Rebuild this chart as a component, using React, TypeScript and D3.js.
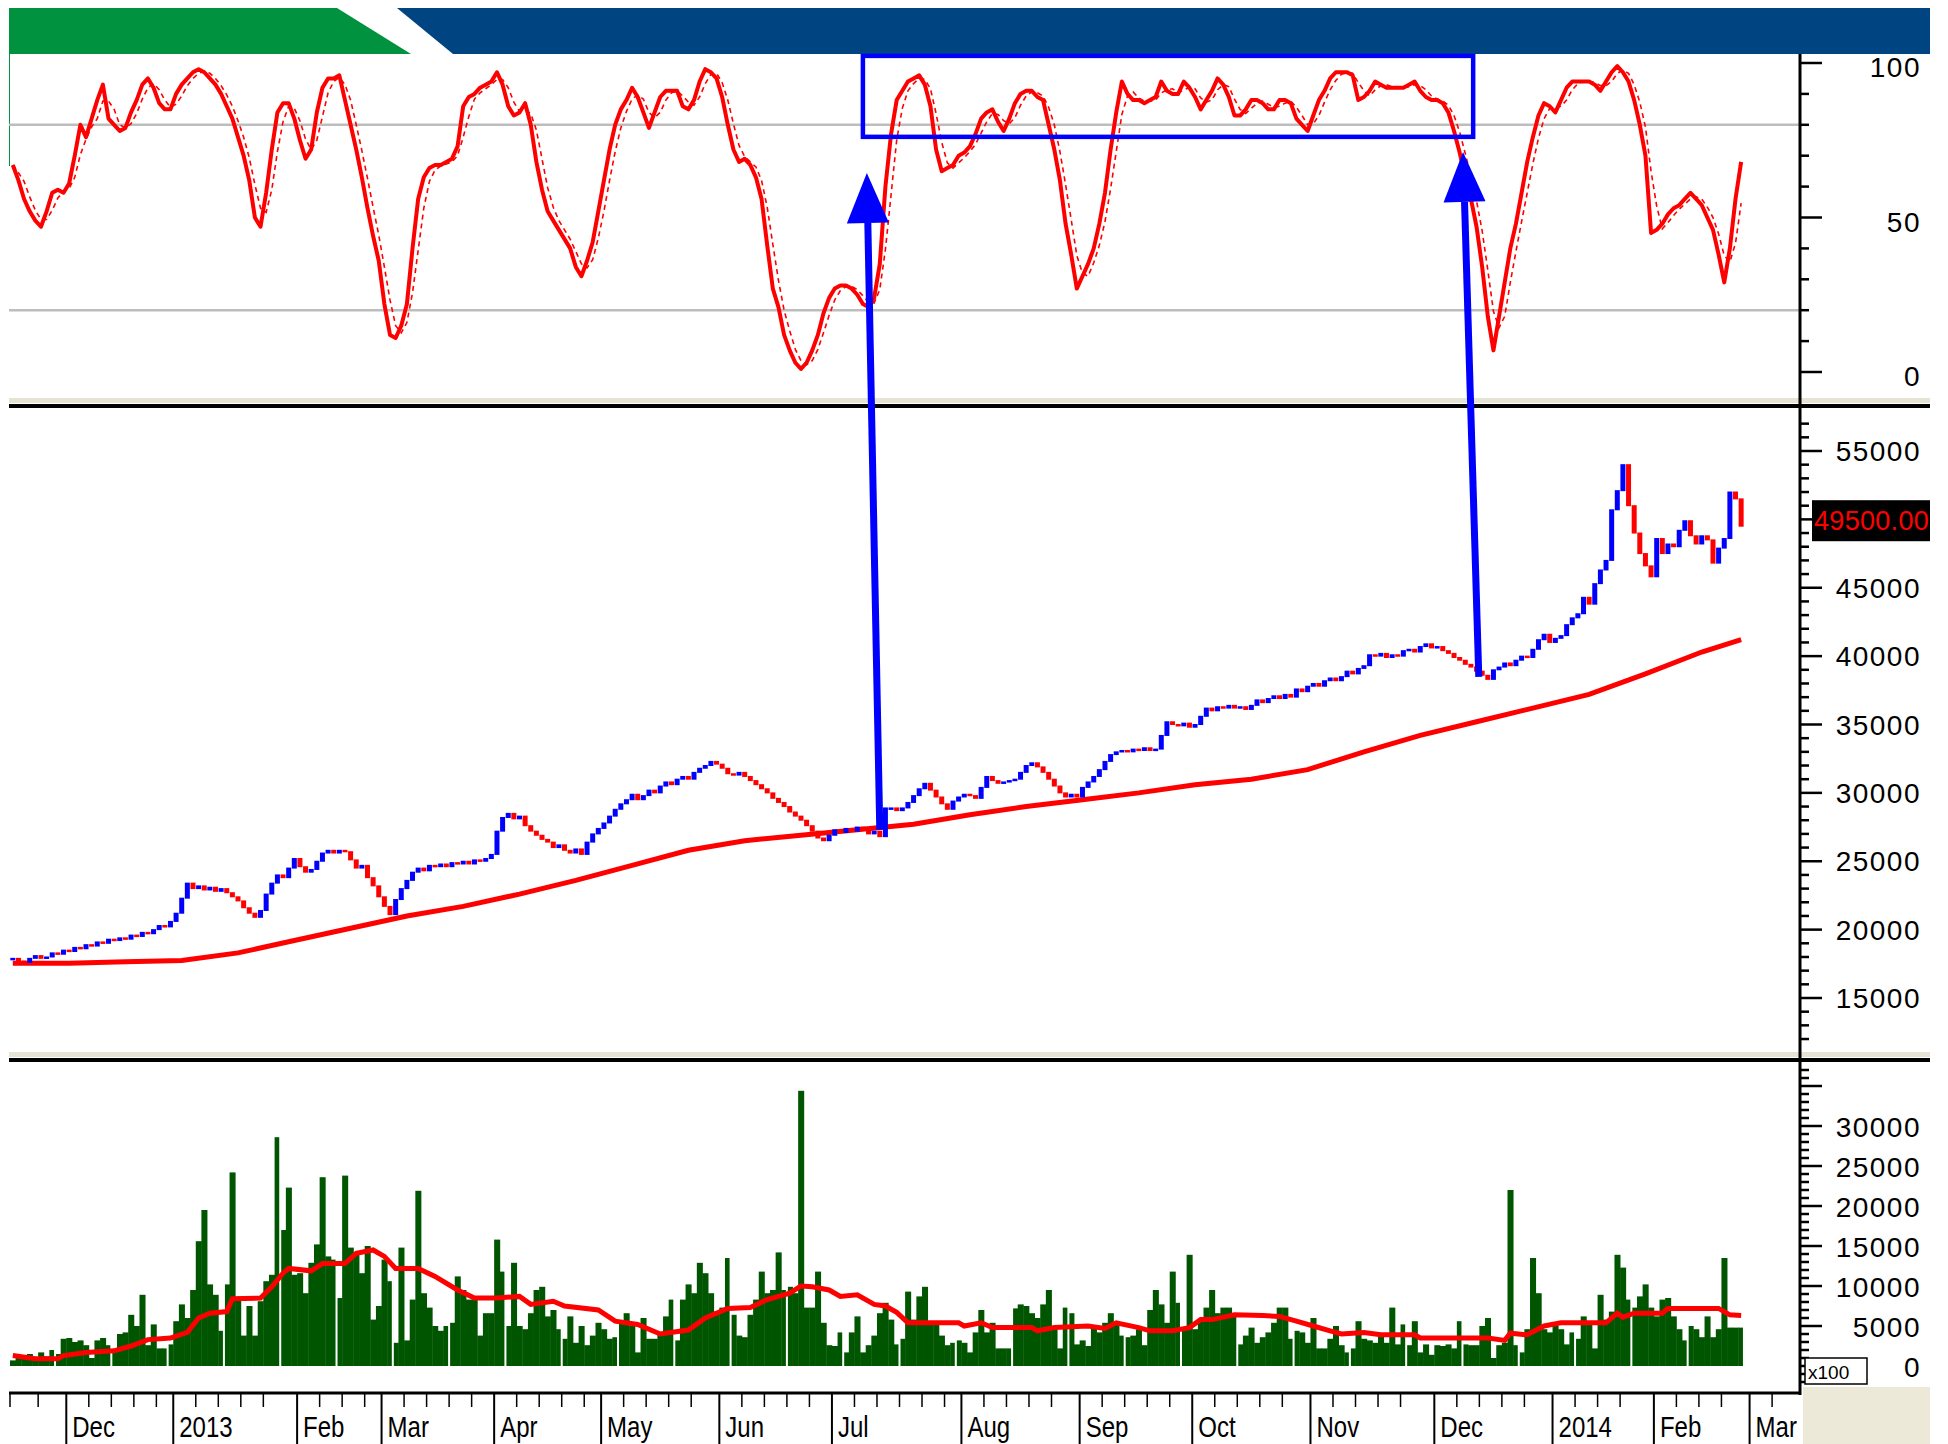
import React, { useEffect, useRef } from 'react';
import * as d3 from 'd3';

// daily closes, one per trading day (mid Nov 2012 .. end Feb 2014)
const closes: number[] = [
  17900, 17700, 17600, 17900, 18100, 17900, 18000, 18300, 18200, 18500,
  18400, 18700, 18600, 18900, 18800, 19100, 19000, 19300, 19200, 19400,
  19300, 19600, 19500, 19800, 19700, 20000, 20300, 20200, 20600, 21200,
  22300, 23400, 23000, 23200, 22900, 23100, 22800, 23000, 22700, 22400,
  22100, 21600, 21200, 20900, 21400, 22600, 23400, 24000, 23800, 24500,
  25200, 24600, 24200, 24400, 25000, 25600, 25800, 25600, 25800, 25700,
  25100, 24500, 24700, 23800, 23200, 22400, 21700, 21100, 22200, 23000,
  23600, 24200, 24500, 24300, 24700, 24600, 24800, 24600, 24900, 24800,
  25000, 24800, 25100, 25000, 25200, 25500, 27200, 28200, 28500, 28100,
  28300, 27600, 27200, 26900, 26600, 26400, 26000, 26200, 25800, 25600,
  25900, 25500, 26400, 27000, 27400, 27800, 28300, 28800, 29200, 29500,
  29900, 29500, 29800, 30200, 30000, 30500, 30800, 30600, 31000, 31200,
  31000, 31500, 31800, 32000, 32300, 32100, 31800, 31400, 31300, 31500,
  31200, 30900, 30600, 30300, 30000, 29600, 29300, 29000, 28600, 28300,
  28000, 27600, 27200, 26700, 26500, 26900, 27300, 27100, 27400, 27200,
  27500, 27300, 27000, 27200, 26800, 28900, 28900, 28700, 28900, 29300,
  29800, 30300, 30700, 30200, 29700, 29200, 28800, 29400, 29700, 29900,
  29800, 29600, 30400, 31200, 30900, 30700, 30800, 30900, 31000, 31500,
  32000, 32200, 31900, 31500, 31000, 30500, 30000, 29700, 29900, 29700,
  30400, 30800, 31200, 31700, 32300, 32800, 33000, 33100, 33000, 33200,
  33100, 33300, 33100, 33200, 34200, 35200, 35000, 34900, 35100, 34800,
  35000, 35600, 36200, 36000, 36300, 36200, 36400, 36200, 36300, 36100,
  36400, 36800, 36600, 36900, 37100, 36900, 37200, 37000, 37600, 37400,
  37800, 38000, 37800, 38200, 38400, 38200, 38500, 38900, 38700, 39100,
  39300, 40100, 40000, 40200, 39900, 40100, 40000, 40400, 40500, 40300,
  40700, 40900, 40600, 40700, 40400, 40200, 39900, 39700, 39400, 39200,
  38900, 38600, 38300, 39000, 39200, 39500, 39300, 39700, 40000, 39900,
  40500, 41200, 41600, 41000, 41300, 41500, 42300, 42800, 43100, 44300,
  43800, 45300, 46300, 47000, 50700, 52100, 54000, 51000, 49000, 47500,
  46600, 45800, 48600, 47500, 48200, 48000, 49200, 49900, 48800, 48200,
  48800, 48500, 46800, 47900, 48600, 52000, 51500, 49500
];

// stochastic %K
const stochK: number[] = [
  67, 62, 56, 52, 49, 47, 52, 58, 59, 58,
  61, 70, 80, 76, 82, 88, 93, 82, 80, 78,
  79, 84, 88, 93, 95, 92, 87, 85, 85, 90,
  93, 95, 97, 98, 97, 95, 93, 90, 86, 82,
  76, 70, 62, 50, 47, 58, 72, 84, 87, 87,
  82, 75, 69, 72, 84, 92, 95, 95, 96, 88,
  80, 72, 63, 53, 44, 36, 22, 12, 11, 15,
  22, 40, 56, 63, 66, 67, 67, 68, 69, 73,
  86, 89, 90, 92, 93, 94, 97, 93, 86, 83,
  84, 87, 80, 68, 59, 52, 49, 46, 43, 40,
  34, 31, 36, 42, 52, 62, 72, 80, 85, 88,
  92, 89, 84, 79, 84, 89, 91, 91, 91, 86,
  85, 88, 94, 98, 97, 95, 89, 80, 72, 68,
  69, 67, 63, 56, 41, 27, 21, 12, 7, 3,
  1, 3, 7, 12, 19, 24, 27, 28, 28, 27,
  25, 22, 21, 24, 35, 60, 77, 88, 91, 94,
  95, 96, 93, 86, 72, 65, 66, 67, 70, 71,
  73, 77, 82, 84, 85, 81, 78, 82, 87, 90,
  91, 91, 89, 88, 80, 72, 62, 48, 38, 27,
  31, 35, 40, 48, 58, 72, 84, 94, 90, 88,
  88, 87, 88, 89, 94, 91, 90, 90, 94, 92,
  89, 85, 88, 91, 95, 93, 89, 83, 83, 85,
  88, 88, 87, 85, 85, 88, 88, 87, 82, 80,
  78, 83, 88, 91, 95, 97, 97, 97, 96, 88,
  89, 91, 94, 93, 92, 92, 92, 92, 93, 94,
  91, 89, 88, 88, 87, 84, 78, 71, 63, 56,
  47, 34, 18, 7, 18, 29, 40, 48, 58, 68,
  76, 83, 87, 86, 84, 88, 92, 94, 94, 94,
  94, 93, 91, 94, 97, 99, 97, 94, 88, 80,
  70, 45, 46, 48, 51, 53, 54, 56, 58, 56,
  54, 50, 46, 38, 29, 40, 56, 68
];

// volume (x100)
const volumes: number[] = [
  700, 1300, 900, 1500, 1000, 1700, 1200, 2000, 1500, 3400,
  3500, 3000, 3200, 2600, 1000, 3200, 3500, 2600, 2000, 4000,
  4200, 6400, 5000, 8900, 2600, 5200, 2200, 2200, 2700, 5600,
  7700, 6000, 9500, 15600, 19500, 10200, 8900, 4400, 10200, 24200,
  8500, 3800, 7500, 3800, 8100, 10600, 11400, 28600, 17000, 22300,
  11400, 11600, 9100, 12900, 15200, 23600, 13700, 13300, 8500, 23800,
  14800, 14200, 11600, 15000, 5800, 7500, 13300, 10600, 2900, 14800,
  3200, 8300, 21900, 9100, 7300, 5000, 4400, 5000, 5400, 11200,
  9500, 8300, 8300, 3800, 6600, 6600, 15800, 11800, 5000, 12900,
  5000, 4600, 6600, 9500, 9900, 6200, 7000, 4600, 3400, 6200,
  2900, 5000, 2600, 3800, 5400, 4600, 3400, 3600, 5600, 6600,
  5000, 1700, 6000, 3400, 3400, 4200, 6200, 8300, 3200, 8300,
  10200, 9100, 12900, 11600, 9100, 6800, 7300, 13500, 6400, 3800,
  3600, 6400, 8300, 11800, 9100, 9500, 14200, 9500, 9900, 9100,
  34400, 7300, 7300, 11800, 5400, 2600, 2500, 4200, 1700, 4200,
  6200, 1700, 2600, 3800, 6600, 7900, 5800, 2700, 3400, 9300,
  5800, 8700, 9900, 5600, 5400, 3800, 2600, 2900, 3200, 2900,
  1700, 4200, 7000, 4200, 5400, 2200, 2200, 2200, 7200, 7700,
  7500, 6600, 6000, 7700, 9500, 5000, 2200, 7300, 6600, 2700,
  3200, 2500, 5000, 4200, 5400, 6600, 5400, 3800, 3600, 3800,
  4600, 2600, 7000, 9500, 7700, 5400, 11800, 7900, 4600, 13900,
  4600, 5800, 7300, 9500, 6600, 7300, 7300, 6600, 2700, 3800,
  4800, 2900, 3600, 4200, 5400, 7300, 7300, 3400, 4400, 4200,
  2900, 6000, 2200, 2200, 3400, 5000, 2600, 1700, 2200, 5600,
  3400, 3200, 2900, 3800, 2900, 7300, 2700, 5200, 2600, 5600,
  1700, 2700, 1400, 2600, 2500, 2700, 2200, 5600, 2700, 2600,
  2600, 5000, 6000, 1000, 2600, 2900, 22000, 2600, 1700, 4600,
  13500, 9100, 4600, 4200, 5000, 4600, 2700, 4200, 3400, 6200,
  5600, 2200, 8900, 5800, 6800, 13900, 12300, 8300, 7300, 8700,
  10200, 7300, 6200, 8300, 8500, 6200, 4600, 3200, 5000, 4600,
  3600, 6200, 3600, 4600, 13500, 4800, 4800, 4800
];

// long moving average of price, [day index, value]
const priceMa: [number, number][] = [
  [0, 17550], [10, 17550], [20, 17650], [30, 17750], [40, 18300], [50, 19200],
  [60, 20100], [70, 21000], [80, 21700], [90, 22600], [100, 23600], [110, 24700],
  [120, 25800], [130, 26500], [140, 26900], [150, 27300], [160, 27700], [170, 28400],
  [180, 29000], [190, 29500], [200, 30000], [210, 30600], [220, 31000], [230, 31700],
  [240, 33000], [250, 34200], [260, 35200], [270, 36200], [280, 37200], [290, 38700],
  [300, 40300], [307, 41200]
];

// moving average of volume, [day index, value]
const volumeMa: [number, number][] = [
  [0, 1300], [4, 900], [8, 900], [9, 1300], [13, 1700], [18, 1900], [21, 2500],
  [24, 3300], [28, 3500], [31, 4200], [33, 6000], [35, 6600], [38, 6800], [39, 8400],
  [44, 8500], [46, 9900], [48, 11600], [49, 12200], [53, 11900], [55, 12800],
  [59, 12800], [61, 14100], [64, 14500], [66, 13700], [68, 12200], [72, 12200],
  [75, 11200], [79, 9500], [82, 8500], [86, 8500], [90, 8700], [92, 7700], [96, 8100],
  [98, 7500], [104, 7000], [107, 5600], [111, 5200], [115, 4000], [120, 4500],
  [123, 6000], [127, 7200], [131, 7300], [134, 8300], [138, 9100], [140, 10000],
  [142, 9900], [145, 9500], [147, 8700], [150, 8900], [153, 7700], [155, 7500],
  [157, 6700], [159, 5400], [168, 5400], [169, 5000], [172, 5400], [174, 4800],
  [181, 4800], [182, 4400], [185, 4800], [191, 5000], [194, 4700], [196, 5400],
  [200, 4800], [202, 4400], [206, 4400], [209, 4800], [211, 5800], [213, 5800],
  [217, 6400], [222, 6300], [225, 6200], [228, 5600], [231, 5000], [234, 4400],
  [236, 4000], [240, 4200], [243, 3900], [249, 3900], [250, 3500], [262, 3500],
  [265, 3200], [266, 4100], [269, 3900], [272, 5000], [275, 5400], [283, 5400],
  [285, 6600], [286, 6100], [288, 6600], [293, 6600], [294, 7200], [303, 7200],
  [305, 6400], [307, 6300]
];

const monthLabels = ['Dec', '2013', 'Feb', 'Mar', 'Apr', 'May', 'Jun', 'Jul', 'Aug', 'Sep', 'Oct', 'Nov', 'Dec', '2014', 'Feb', 'Mar'];
const monthStart = [10, 29, 51, 66, 86, 105, 126, 146, 169, 190, 210, 231, 253, 274, 292, 309];

const oscLabels = [0, 50, 100];
const oscLevels = [20, 80];
// 50000 sits under the last-price box, so it has no label
const priceLabels = [15000, 20000, 25000, 30000, 35000, 40000, 45000, 55000];
const volumeLabels = [0, 5000, 10000, 15000, 20000, 25000, 30000];
const lastClose = 49500;

// annotation: box over the overbought zone and the two arrows
const boxSpan = { from: 151, to: 259.4, top: 102.3, bottom: 76.1 };
const arrows = [
  { fromIdx: 154, fromPrice: 27300, toIdx: 151.7, toOsc: 64.4 },
  { fromIdx: 260.4, fromPrice: 38480, toIdx: 257.6, toOsc: 71.2 }
];

const W = 1948;
const H = 1444;

const App: React.FC = () => {
  const svgRef = useRef<SVGSVGElement>(null);

  useEffect(() => {
    if (!svgRef.current) return;
    const svg = d3.select(svgRef.current);
    svg.selectAll('*').remove();

    const left = 9;
    const right = 1930;
    const axisX = 1800;
    const font = "'Liberation Sans', Arial, sans-serif";

    const x = d3.scaleLinear().domain([-0.5, 317.1]).range([10, 1798]);
    const step = x(1) - x(0);
    const yOsc = d3.scaleLinear().domain([0, 100]).range([372, 63]);
    const yPrice = d3.scaleLinear().domain([15000, 55000]).range([998, 451]);
    const yVol = d3.scaleLinear().domain([0, 30000]).range([1366, 1126]);

    svg.append('rect').attr('width', W).attr('height', H).attr('fill', '#fff');

    // 顶部色条
    svg.append('polygon')
      .attr('points', `${left},8 337,8 411,54 ${left},54`)
      .attr('fill', '#00923f');
    svg.append('polygon')
      .attr('points', `397,8 ${right},8 ${right},54 453,54`)
      .attr('fill', '#004481');
    svg.append('line')
      .attr('x1', left + 0.5).attr('x2', left + 0.5)
      .attr('y1', 54).attr('y2', 166)
      .attr('stroke', '#00923f').attr('stroke-width', 1);

    // ---- oscillator pane ----
    oscLevels.forEach(v => {
      svg.append('line')
        .attr('x1', left).attr('x2', axisX)
        .attr('y1', yOsc(v)).attr('y2', yOsc(v))
        .attr('stroke', '#bdbdbd').attr('stroke-width', 2.5);
    });

    const stochD = stochK.map((_, i) => d3.mean(stochK.slice(Math.max(0, i - 2), i + 1)) as number);
    const oscLine = d3.line<number>().x((_, i) => x(i)).y(d => yOsc(d));

    svg.append('path')
      .datum(stochD)
      .attr('d', oscLine)
      .attr('fill', 'none')
      .attr('stroke', '#ff0000')
      .attr('stroke-width', 1.6)
      .attr('stroke-dasharray', '5,4');

    svg.append('path')
      .datum(stochK)
      .attr('d', oscLine)
      .attr('fill', 'none')
      .attr('stroke', '#ff0000')
      .attr('stroke-width', 4)
      .attr('stroke-linejoin', 'round');

    // pane separators
    const separator = (y: number) => {
      svg.append('rect').attr('x', left).attr('y', y).attr('width', right - left).attr('height', 5).attr('fill', '#e6e3d4');
      svg.append('rect').attr('x', left).attr('y', y + 6).attr('width', right - left).attr('height', 4).attr('fill', '#000');
    };
    separator(398);
    separator(1052);

    // ---- price pane ----
    const maLine = d3.line<[number, number]>().x(d => x(d[0])).y(d => yPrice(d[1]));
    svg.append('path')
      .datum(priceMa)
      .attr('d', maLine)
      .attr('fill', 'none')
      .attr('stroke', '#ff0000')
      .attr('stroke-width', 5);

    const candles = closes.map((c, i) => ({ i, o: i > 0 ? closes[i - 1] : c, c }));
    const bw = 5;
    svg.append('g')
      .selectAll('rect')
      .data(candles)
      .enter()
      .append('rect')
      .attr('x', d => x(d.i) - bw / 2)
      .attr('width', bw)
      .attr('y', d => yPrice(Math.max(d.o, d.c)) - 0.5)
      .attr('height', d => Math.max(2.5, Math.abs(yPrice(d.o) - yPrice(d.c)) + 1))
      .attr('fill', d => (d.c >= d.o ? '#0000ff' : '#ff0000'));

    // ---- volume pane ----
    svg.append('g')
      .selectAll('rect')
      .data(volumes)
      .enter()
      .append('rect')
      .attr('x', (_, i) => x(i) - step / 2)
      .attr('width', step + 0.4)
      .attr('y', d => yVol(d))
      .attr('height', d => yVol(0) - yVol(d))
      .attr('fill', '#005500');

    d3.range(7.5, closes.length, 10).forEach(k => {
      svg.append('line')
        .attr('x1', x(k)).attr('x2', x(k))
        .attr('y1', 1066).attr('y2', yVol(0))
        .attr('stroke', '#fff').attr('stroke-width', 2);
    });

    const volLine = d3.line<[number, number]>().x(d => x(d[0])).y(d => yVol(d[1]));
    svg.append('path')
      .datum(volumeMa)
      .attr('d', volLine)
      .attr('fill', 'none')
      .attr('stroke', '#ff0000')
      .attr('stroke-width', 5);

    // ---- right axis ----
    const tick = (y: number, len: number) => {
      svg.append('line')
        .attr('x1', axisX).attr('x2', axisX + len)
        .attr('y1', y).attr('y2', y)
        .attr('stroke', '#000').attr('stroke-width', 2.5);
    };
    const yLabel = (y: number, text: string) => {
      svg.append('text')
        .attr('x', 1921).attr('y', y)
        .attr('text-anchor', 'end')
        .attr('font-family', font)
        .attr('font-size', 28)
        .attr('letter-spacing', 1.5)
        .attr('fill', '#000')
        .text(text);
    };

    d3.range(0, 101, 10).forEach(v => tick(yOsc(v), v % 50 === 0 ? 22 : 9));
    oscLabels.forEach(v => yLabel(yOsc(v) + 14, String(v)));

    d3.range(12000, 58000, 1000)
      .filter(v => yPrice(v) > 412 && yPrice(v) < 1050)
      .forEach(v => tick(yPrice(v), v % 5000 === 0 ? 22 : 9));
    priceLabels.forEach(v => yLabel(yPrice(v) + 10, String(v)));

    d3.range(-2000, 38000, 1000)
      .filter(v => yVol(v) > 1066 && yVol(v) < 1386)
      .forEach(v => tick(yVol(v), v % 5000 === 0 ? 22 : 9));
    volumeLabels.forEach(v => yLabel(yVol(v) + 11, String(v)));

    svg.append('line')
      .attr('x1', axisX).attr('x2', axisX)
      .attr('y1', 54).attr('y2', 1395)
      .attr('stroke', '#000').attr('stroke-width', 3);

    // last price box
    svg.append('rect')
      .attr('x', 1812).attr('y', yPrice(lastClose) - 26)
      .attr('width', 118).attr('height', 41)
      .attr('fill', '#000');
    svg.append('text')
      .attr('x', 1814).attr('y', yPrice(lastClose) + 4)
      .attr('font-family', font)
      .attr('font-size', 27)
      .attr('letter-spacing', 0.3)
      .attr('fill', '#ff0000')
      .text(lastClose.toFixed(2));

    // ---- time axis ----
    svg.append('line')
      .attr('x1', left).attr('x2', axisX)
      .attr('y1', 1393).attr('y2', 1393)
      .attr('stroke', '#000').attr('stroke-width', 3);

    const minorTicks: number[] = [0, 5];
    monthStart.forEach((s, k) => {
      const next = k + 1 < monthStart.length ? monthStart[k + 1] : 318;
      for (let t = s + 4; t < next - 2; t += 4) minorTicks.push(t);
    });
    minorTicks.forEach(t => {
      svg.append('line')
        .attr('x1', x(t - 0.5)).attr('x2', x(t - 0.5))
        .attr('y1', 1393).attr('y2', 1407)
        .attr('stroke', '#000').attr('stroke-width', 1.5);
    });

    monthStart.forEach((s, k) => {
      const xl = x(s - 0.5);
      svg.append('line')
        .attr('x1', xl).attr('x2', xl)
        .attr('y1', 1393).attr('y2', H)
        .attr('stroke', '#000').attr('stroke-width', 2);
      svg.append('text')
        .attr('transform', `translate(${xl + 6},1437) scale(0.8,1)`)
        .attr('font-family', font)
        .attr('font-size', 30)
        .attr('fill', '#000')
        .text(monthLabels[k]);
    });

    svg.append('rect')
      .attr('x', 1803).attr('y', 1387)
      .attr('width', right - 1803).attr('height', H - 1387)
      .attr('fill', '#ece9d8');

    svg.append('rect')
      .attr('x', 1805).attr('y', 1358)
      .attr('width', 62).attr('height', 26)
      .attr('fill', '#fff').attr('stroke', '#000').attr('stroke-width', 1.5);
    svg.append('text')
      .attr('x', 1808).attr('y', 1379)
      .attr('font-family', font)
      .attr('font-size', 19)
      .attr('fill', '#000')
      .text('x100');

    // ---- annotations ----
    svg.append('rect')
      .attr('x', x(boxSpan.from))
      .attr('y', yOsc(boxSpan.top))
      .attr('width', x(boxSpan.to) - x(boxSpan.from))
      .attr('height', yOsc(boxSpan.bottom) - yOsc(boxSpan.top))
      .attr('fill', 'none')
      .attr('stroke', '#0000ff')
      .attr('stroke-width', 4.5);

    arrows.forEach(a => {
      const x0 = x(a.fromIdx), y0 = yPrice(a.fromPrice);
      const x1 = x(a.toIdx), y1 = yOsc(a.toOsc);
      const len = Math.hypot(x1 - x0, y1 - y0);
      const ux = (x1 - x0) / len, uy = (y1 - y0) / len;
      const headLen = 50, headHalf = 21;
      const bx = x1 - ux * headLen, by = y1 - uy * headLen;
      svg.append('line')
        .attr('x1', x0).attr('y1', y0)
        .attr('x2', bx).attr('y2', by)
        .attr('stroke', '#0000ff').attr('stroke-width', 7);
      svg.append('polygon')
        .attr('points', [
          [x1, y1],
          [bx - uy * headHalf, by + ux * headHalf],
          [bx + uy * headHalf, by - ux * headHalf]
        ].map(p => p.join(',')).join(' '))
        .attr('fill', '#0000ff');
    });
  }, []);

  return (
    <svg
      ref={svgRef}
      width={W}
      height={H}
      style={{ position: 'absolute', left: 0, top: 0, display: 'block' }}
    />
  );
};

export default App;
